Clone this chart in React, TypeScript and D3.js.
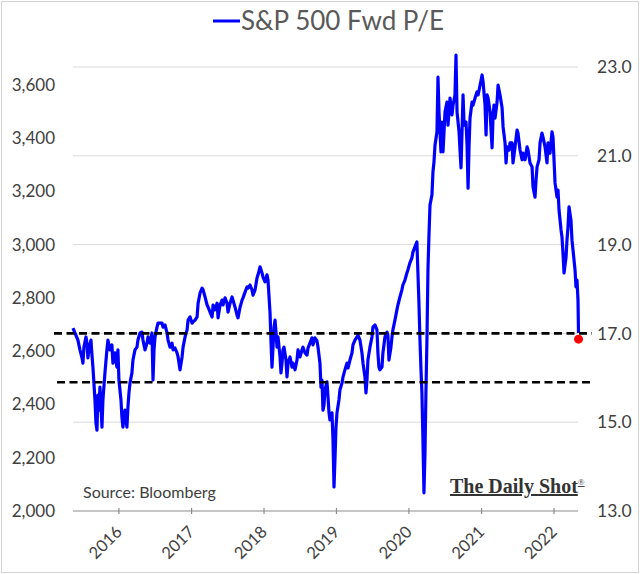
import React from 'react';
import * as d3 from 'd3';

// Decimal-year dates of the weekly forward P/E readings
const years: number[] = [
  2015.366, 2015.393, 2015.434, 2015.462, 2015.490, 2015.503, 2015.517, 2015.545, 2015.559, 2015.572,
  2015.586, 2015.614, 2015.628, 2015.641, 2015.655, 2015.669, 2015.683, 2015.697, 2015.710, 2015.724,
  2015.738, 2015.752, 2015.766, 2015.779, 2015.807, 2015.834, 2015.848, 2015.876, 2015.903, 2015.917,
  2015.945, 2015.972, 2015.986, 2016.000, 2016.028, 2016.041, 2016.055, 2016.083, 2016.110, 2016.124,
  2016.138, 2016.152, 2016.179, 2016.193, 2016.221, 2016.248, 2016.262, 2016.290, 2016.317, 2016.331,
  2016.359, 2016.386, 2016.400, 2016.428, 2016.455, 2016.469, 2016.483, 2016.497, 2016.524, 2016.538,
  2016.593, 2016.607, 2016.634, 2016.662, 2016.676, 2016.703, 2016.731, 2016.745, 2016.772, 2016.800,
  2016.814, 2016.841, 2016.869, 2016.883, 2016.910, 2016.938, 2016.952, 2016.979, 2017.007, 2017.021,
  2017.048, 2017.076, 2017.090, 2017.117, 2017.145, 2017.159, 2017.186, 2017.214, 2017.228, 2017.255,
  2017.283, 2017.297, 2017.324, 2017.352, 2017.366, 2017.393, 2017.421, 2017.434, 2017.462, 2017.490,
  2017.503, 2017.531, 2017.559, 2017.572, 2017.600, 2017.628, 2017.641, 2017.669, 2017.697, 2017.710,
  2017.738, 2017.766, 2017.779, 2017.807, 2017.834, 2017.848, 2017.876, 2017.903, 2017.917, 2017.945,
  2017.972, 2017.986, 2018.014, 2018.041, 2018.055, 2018.083, 2018.097, 2018.110, 2018.124, 2018.138,
  2018.152, 2018.166, 2018.179, 2018.193, 2018.221, 2018.234, 2018.248, 2018.262, 2018.276, 2018.303,
  2018.317, 2018.331, 2018.359, 2018.386, 2018.400, 2018.428, 2018.455, 2018.469, 2018.497, 2018.524,
  2018.538, 2018.566, 2018.593, 2018.607, 2018.634, 2018.662, 2018.676, 2018.703, 2018.731, 2018.745,
  2018.772, 2018.786, 2018.800, 2018.814, 2018.828, 2018.841, 2018.869, 2018.883, 2018.897, 2018.910,
  2018.938, 2018.952, 2018.966, 2018.979, 2018.993, 2019.007, 2019.034, 2019.048, 2019.076, 2019.090,
  2019.117, 2019.145, 2019.159, 2019.186, 2019.214, 2019.228, 2019.255, 2019.283, 2019.297, 2019.324,
  2019.352, 2019.366, 2019.393, 2019.407, 2019.421, 2019.434, 2019.462, 2019.490, 2019.503, 2019.531,
  2019.559, 2019.572, 2019.586, 2019.600, 2019.628, 2019.641, 2019.669, 2019.697, 2019.710, 2019.724,
  2019.752, 2019.766, 2019.779, 2019.807, 2019.834, 2019.848, 2019.876, 2019.903, 2019.917, 2019.945,
  2019.972, 2019.986, 2020.014, 2020.041, 2020.055, 2020.083, 2020.110, 2020.124, 2020.138, 2020.152,
  2020.166, 2020.179, 2020.193, 2020.207, 2020.221, 2020.234, 2020.248, 2020.262, 2020.276, 2020.290,
  2020.317, 2020.331, 2020.345, 2020.359, 2020.386, 2020.400, 2020.414, 2020.441, 2020.455, 2020.469,
  2020.497, 2020.524, 2020.538, 2020.566, 2020.593, 2020.607, 2020.634, 2020.648, 2020.662, 2020.690,
  2020.703, 2020.717, 2020.731, 2020.745, 2020.759, 2020.786, 2020.800, 2020.814, 2020.828, 2020.841,
  2020.869, 2020.883, 2020.910, 2020.938, 2020.952, 2020.979, 2021.007, 2021.021, 2021.048, 2021.062,
  2021.076, 2021.090, 2021.117, 2021.145, 2021.159, 2021.172, 2021.186, 2021.214, 2021.228, 2021.255,
  2021.283, 2021.297, 2021.324, 2021.338, 2021.352, 2021.379, 2021.393, 2021.421, 2021.434, 2021.462,
  2021.490, 2021.503, 2021.531, 2021.559, 2021.572, 2021.600, 2021.628, 2021.641, 2021.669, 2021.697,
  2021.710, 2021.738, 2021.752, 2021.766, 2021.793, 2021.807, 2021.834, 2021.848, 2021.876, 2021.903,
  2021.917, 2021.945, 2021.972, 2021.986, 2022.000, 2022.014, 2022.041, 2022.055, 2022.069, 2022.097,
  2022.110, 2022.124, 2022.138, 2022.166, 2022.179, 2022.193, 2022.207, 2022.234, 2022.248, 2022.262,
  2022.290, 2022.303, 2022.317, 2022.331, 2022.338,
];

// S&P 500 forward P/E (right axis)
const peValues: number[] = [
  17.12, 17.01, 16.85, 16.63, 16.45, 16.33, 16.69, 16.92, 16.78, 16.45,
  16.63, 16.85, 16.51, 16.24, 15.88, 15.50, 14.98, 14.82, 15.61, 15.27,
  15.79, 15.39, 14.89, 15.50, 16.11, 16.63, 16.85, 16.63, 16.74, 16.33,
  16.56, 16.24, 16.63, 15.95, 15.50, 15.12, 14.89, 15.27, 14.89, 15.34,
  15.66, 15.88, 16.11, 16.40, 16.63, 16.69, 16.85, 17.01, 17.03, 16.85,
  16.63, 16.78, 16.92, 16.78, 17.01, 15.95, 16.63, 16.92, 17.14, 17.23,
  17.23, 17.14, 17.19, 17.01, 16.85, 16.69, 16.78, 16.63, 16.67, 16.56,
  16.47, 16.18, 16.47, 16.69, 16.92, 17.08, 17.30, 17.37, 17.23, 17.26,
  17.30, 17.37, 17.68, 17.91, 18.02, 17.98, 17.82, 17.64, 17.59, 17.48,
  17.37, 17.64, 17.53, 17.68, 17.35, 17.64, 17.75, 17.64, 17.80, 17.68,
  17.48, 17.68, 17.82, 17.75, 17.59, 17.41, 17.35, 17.59, 17.75, 17.80,
  17.93, 18.05, 18.02, 18.09, 17.98, 17.86, 17.98, 18.25, 18.32, 18.50,
  18.36, 18.27, 18.16, 18.32, 18.20, 17.46, 16.78, 16.24, 16.69, 17.14,
  17.30, 17.01, 16.69, 16.92, 16.47, 16.11, 16.33, 16.63, 16.69, 16.40,
  16.02, 16.33, 16.47, 16.24, 16.33, 16.18, 16.40, 16.63, 16.47, 16.63,
  16.69, 16.56, 16.51, 16.67, 16.78, 16.90, 16.74, 16.90, 16.83, 16.69,
  16.33, 15.79, 15.95, 15.27, 15.39, 15.73, 15.91, 15.57, 15.21, 15.05,
  15.21, 14.60, 13.54, 14.15, 14.89, 15.21, 15.50, 15.73, 15.88, 16.02,
  16.18, 16.33, 16.22, 16.40, 16.56, 16.74, 16.85, 16.92, 16.96, 16.85,
  16.56, 16.33, 16.02, 15.66, 15.95, 16.40, 16.69, 16.92, 17.14, 17.19,
  17.08, 16.56, 16.24, 16.18, 16.24, 16.56, 16.92, 17.03, 16.96, 16.40,
  16.69, 16.92, 17.08, 17.30, 17.53, 17.64, 17.82, 17.98, 18.09, 18.20,
  18.36, 18.43, 18.59, 18.70, 18.83, 18.95, 19.06, 18.36, 17.68, 16.85,
  16.18, 15.66, 14.60, 13.41, 14.31, 15.66, 16.85, 18.43, 19.22, 19.89,
  20.12, 20.64, 20.86, 21.24, 21.54, 22.77, 21.99, 21.09, 21.76, 21.09,
  21.99, 22.21, 21.69, 22.30, 21.92, 22.14, 22.37, 23.27, 21.99, 21.54,
  21.13, 20.73, 21.54, 22.37, 21.69, 21.76, 21.24, 20.27, 21.24, 21.85,
  22.21, 22.14, 22.30, 22.44, 22.37, 22.59, 22.82, 22.66, 22.14, 21.47,
  22.37, 22.30, 21.99, 21.18, 21.92, 22.14, 21.85, 22.21, 22.59, 22.37,
  22.08, 21.65, 21.29, 20.84, 21.20, 21.13, 21.29, 21.29, 20.84, 21.20,
  21.58, 21.51, 21.13, 20.91, 21.06, 20.91, 21.20, 21.13, 20.84, 20.75,
  20.30, 20.07, 20.46, 20.75, 20.91, 21.29, 21.51, 21.42, 21.20, 20.84,
  21.29, 21.06, 21.54, 21.42, 20.91, 20.39, 20.07, 20.23, 19.78, 19.33,
  19.17, 18.81, 18.36, 18.72, 19.10, 19.40, 19.85, 19.55, 19.10, 18.88,
  18.43, 18.05, 18.20, 17.75, 17.01,
];

const latestYear = 2022.338;
const latestPE = 16.87;

const leftTicks: number[] = [2000, 2200, 2400, 2600, 2800, 3000, 3200, 3400, 3600];
const rightTicks: number[] = [13, 15, 17, 19, 21, 23];
const gridLevels: number[] = [15, 17, 19, 21, 23];
const yearTicks: number[] = [2016, 2017, 2018, 2019, 2020, 2021, 2022];
const dashedLevels: number[] = [17.0, 15.9];

const titleText = 'S&P 500 Fwd P/E';
const sourceText = 'Source: Bloomberg';
const brandText = 'The Daily Shot';

function decToDate(y: number): Date {
  const yr = Math.floor(y);
  const s = Date.UTC(yr, 0, 1);
  const e = Date.UTC(yr + 1, 0, 1);
  return new Date(s + (y - yr) * (e - s));
}

const W = 640;
const H = 574;
const plotLeft = 73;
const plotRight = 578;
const plotBottom = 511;

const FONT = 'Lato, "Open Sans", sans-serif';
const TEXT = '#404040';

export default function App() {
  const x = d3.scaleUtc()
    .domain([decToDate(2015.366), decToDate(2022.331)])
    .range([plotLeft, plotRight]);
  const yR = d3.scaleLinear().domain([13, 23]).range([plotBottom, 67]);
  const yL = d3.scaleLinear().domain([2000, 3600]).range([plotBottom, 85]);

  const data = years.map((t, i) => ({ d: decToDate(t), v: peValues[i] }));
  const line = d3.line<{ d: Date; v: number }>()
    .x(p => x(p.d))
    .y(p => yR(p.v));

  const fmtL = d3.format(',');
  const fmtR = d3.format('.1f');

  return (
    <svg width={W} height={H} style={{ position: 'absolute', left: 0, top: 0, background: '#fff' }}
      fontFamily={FONT}>
      <rect x={0} y={0} width={W} height={H} fill="#fff" />
      <rect x={1.5} y={1.5} width={W - 3} height={H - 3} fill="none" stroke="#d4d4d4" strokeWidth={1} />

      {/* Title with legend swatch */}
      <line x1={213} x2={240} y1={21} y2={21} stroke="#0000ff" strokeWidth={3} />
      <text x={241} y={30} fontSize={26} fill="#595959">{titleText}</text>

      {/* gridlines */}
      {gridLevels.map(g => (
        <line key={g} x1={plotLeft} x2={plotRight} y1={yR(g)} y2={yR(g)} stroke="#d9d9d9" strokeWidth={1} />
      ))}

      {/* x axis */}
      <line x1={plotLeft} x2={plotRight} y1={plotBottom} y2={plotBottom} stroke="#8c8c8c" strokeWidth={1.2} />
      {yearTicks.map(yr => {
        const xx = x(decToDate(yr));
        return (
          <g key={yr}>
            <line x1={xx} x2={xx} y1={plotBottom - 3} y2={plotBottom + 3} stroke="#8c8c8c" strokeWidth={1.2} />
            <text transform={`translate(${xx + 4},${plotBottom + 22}) rotate(-45)`} textAnchor="end"
              fontSize={16.5} fill={TEXT}>{yr}</text>
          </g>
        );
      })}

      {/* left axis labels */}
      {leftTicks.map(v => (
        <text key={v} x={55} y={yL(v)} dy="0.35em" textAnchor="end" fontSize={17} fill={TEXT}>{fmtL(v)}</text>
      ))}

      {/* right axis labels */}
      {rightTicks.map(v => (
        <text key={v} x={597} y={yR(v)} dy="0.35em" textAnchor="start" fontSize={17.5} fill={TEXT}>{fmtR(v)}</text>
      ))}

      {/* the series */}
      <path d={line(data) || ''} fill="none" stroke="#0000ff" strokeWidth={3.2} strokeLinejoin="round" />

      {/* dashed reference levels */}
      <line x1={54} x2={592} y1={yR(dashedLevels[0])} y2={yR(dashedLevels[0])} stroke="#000" strokeWidth={2.6} strokeDasharray="8,4.5" />
      <line x1={57} x2={592} y1={yR(dashedLevels[1])} y2={yR(dashedLevels[1])} stroke="#000" strokeWidth={2.6} strokeDasharray="8,4.5" />

      {/* latest point */}
      <circle cx={x(decToDate(latestYear))} cy={yR(latestPE)} r={4.5} fill="#ff0000" />

      {/* source and brand */}
      <text x={83} y={498} fontSize={16} fill={TEXT}>{sourceText}</text>
      <text x={450} y={493} fontSize={20} fontFamily='"Liberation Serif", "DejaVu Serif", serif' fontWeight={700}
        fill="#333" textDecoration="underline">
        {brandText}
        <tspan fontSize={9} dy={-8} fontWeight={400}>®</tspan>
      </text>
    </svg>
  );
}
